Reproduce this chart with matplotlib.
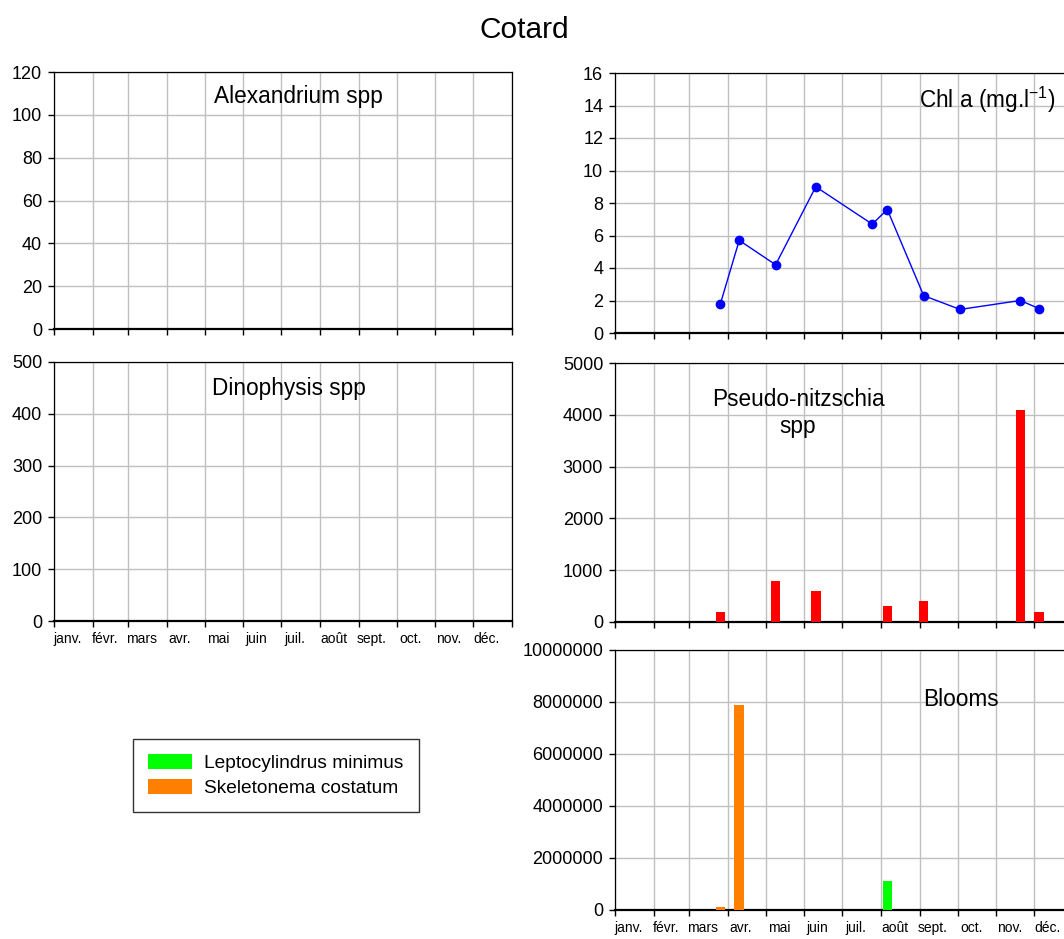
import datetime as dt

import matplotlib
matplotlib.use("Agg")
import matplotlib.pyplot as plt
import matplotlib.dates as mdates
from matplotlib import ticker

plt.rcParams['font.family'] = ['Liberation Sans', 'DejaVu Sans']
plt.rcParams['mathtext.fontset'] = 'custom'
plt.rcParams['mathtext.rm'] = 'Liberation Sans'
plt.rcParams['mathtext.it'] = 'Liberation Sans:italic'
plt.rcParams['mathtext.bf'] = 'Liberation Sans:bold'

# ---------------------------------------------------------------- data
station = "Cotard"
month_labels = ["janv.", "févr.", "mars", "avr.", "mai", "juin",
                "juil.", "août", "sept.", "oct.", "nov.", "déc."]

chl_dates = ["2005-03-26", "2005-04-10", "2005-05-09", "2005-06-10",
             "2005-07-25", "2005-08-06", "2005-09-04", "2005-10-03",
             "2005-11-20", "2005-12-05"]
chl_values = [1.8, 5.7, 4.2, 9.0, 6.7, 7.6, 2.3, 1.45, 2.0, 1.5]

pn_dates = ["2005-03-26", "2005-05-09", "2005-06-10", "2005-08-06",
            "2005-09-04", "2005-11-20", "2005-12-05"]
pn_values = [200, 800, 600, 300, 400, 4100, 200]

skel_dates = ["2005-03-26", "2005-04-10"]
skel_values = [130000, 7900000]

lepto_dates = ["2005-08-06"]
lepto_values = [1130000]

bloom_labels = ["Leptocylindrus minimus", "Skeletonema costatum"]

# ---------------------------------------------------------------- layout
W, H = 1064, 939
fig = plt.figure(figsize=(W / 100, H / 100), dpi=100)


def to_dates(items):
    return [dt.datetime.strptime(s, "%Y-%m-%d") for s in items]


def px_box(x0, y0, x1, y1):
    return [x0 / W, 1 - y1 / H, (x1 - x0) / W, (y1 - y0) / H]


START = dt.datetime(2005, 1, 1)
END = dt.datetime(2006, 1, 1)
month_starts = [dt.datetime(2005, m, 1) for m in range(1, 13)] + [END]
# month names sit a little left of the middle of each month
LABEL_SHIFT = 4.5  # days
label_pos = [(mdates.date2num(month_starts[i]) + mdates.date2num(month_starts[i + 1])) / 2
             - LABEL_SHIFT for i in range(12)]

GRID = "#c0c0c0"


def style(ax, ymax, step, show_months):
    ax.set_xlim(START, END)
    ax.set_ylim(0, ymax)
    ax.yaxis.set_major_locator(ticker.MultipleLocator(step))
    ax.yaxis.set_major_formatter(ticker.StrMethodFormatter("{x:.0f}"))
    ax.xaxis.set_major_locator(mdates.MonthLocator(bymonthday=1))
    ax.xaxis.set_major_formatter(ticker.NullFormatter())
    ax.xaxis.set_minor_locator(ticker.FixedLocator(label_pos))
    if show_months:
        ax.xaxis.set_minor_formatter(ticker.FixedFormatter(month_labels))
    else:
        ax.xaxis.set_minor_formatter(ticker.NullFormatter())
    ax.grid(True, which="major", color=GRID, lw=1.0)
    ax.set_axisbelow(True)
    ax.tick_params(axis="both", which="major", direction="out", length=4.5,
                   width=1.0, color="black", labelsize=13, pad=4)
    ax.tick_params(axis="x", which="minor", length=0, labelsize=10, pad=15.5)
    for lab in ax.xaxis.get_minorticklabels():
        lab.set_verticalalignment("baseline")
    for side in ("top", "left", "right"):
        ax.spines[side].set_linewidth(0.9)
        ax.spines[side].set_color("black")
    ax.spines["bottom"].set_linewidth(1.6)
    ax.spines["bottom"].set_color("black")


# left column
ax_alex = fig.add_axes(px_box(54, 72, 512, 329))
style(ax_alex, 120, 20, False)
ax_dino = fig.add_axes(px_box(54, 362, 512, 621))
style(ax_dino, 500, 100, True)

# right column (runs past the right edge of the page)
ax_chl = fig.add_axes(px_box(615, 73, 1073, 333))
style(ax_chl, 16, 2, False)
ax_pn = fig.add_axes(px_box(615, 363, 1073, 622))
style(ax_pn, 5000, 1000, False)
ax_bl = fig.add_axes(px_box(615, 650, 1073, 910))
style(ax_bl, 10000000, 2000000, True)

# ---------------------------------------------------------------- marks
ax_chl.plot(to_dates(chl_dates), chl_values, color="#0000ff", lw=1.0,
            marker="o", markersize=6, zorder=3)

BAR_W = 7.6  # days
ax_pn.bar(to_dates(pn_dates), pn_values, width=BAR_W, color="#ff0000",
          zorder=3)

lep = ax_bl.bar(to_dates(lepto_dates), lepto_values, width=BAR_W,
                color="#00ff00", zorder=3)
ske = ax_bl.bar(to_dates(skel_dates), skel_values, width=BAR_W,
                color="#ff8000", zorder=3)

# ---------------------------------------------------------------- text
def fig_text(x, y, s, size, **kw):
    fig.text(x / W, 1 - y / H, s, fontsize=size, ha="center", va="center",
             color="black", **kw)


fig_text(524, 30, station, 21.5)
fig_text(298, 96, "Alexandrium spp", 16.3)
fig_text(289, 388, "Dinophysis spp", 16.3)
fig_text(987, 100, r"Chl a (mg.l$^{\mathrm{-1}}$)", 16.3)
fig_text(798, 413, "Pseudo-nitzschia\nspp", 16.3, linespacing=1.25)
fig_text(961, 700, "Blooms", 16.3)

leg = fig.legend([lep, ske], bloom_labels, loc="upper left",
                 bbox_to_anchor=(133 / W, 1 - 739 / H), borderaxespad=0,
                 fontsize=13.8, frameon=True, fancybox=False,
                 handlelength=2.3, handleheight=0.8, handletextpad=0.6,
                 borderpad=0.8, labelspacing=0.35)
leg.get_frame().set_edgecolor("black")
leg.get_frame().set_linewidth(1.0)

fig.savefig("out.png", dpi=100)
